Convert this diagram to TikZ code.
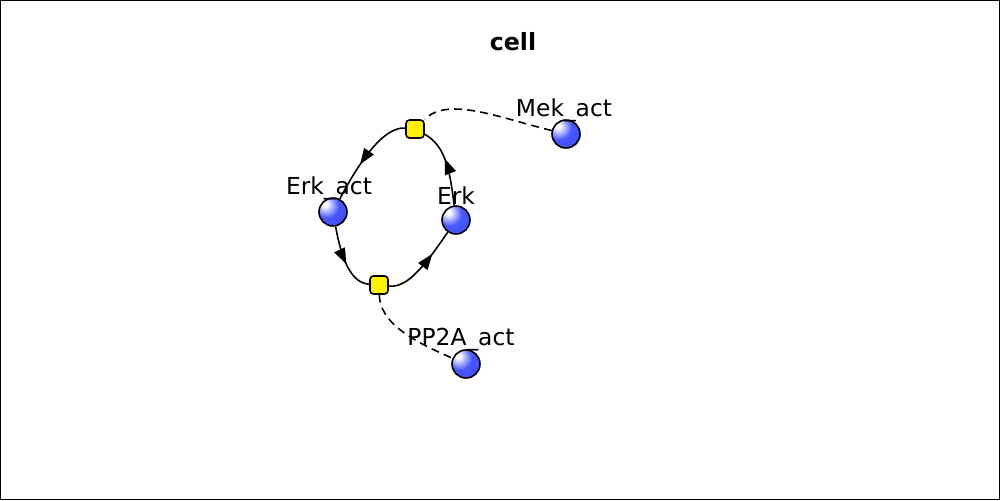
\documentclass[tikz,border=0pt]{standalone}
\usepackage{fontspec}
\setmainfont{DejaVu Sans}
\usetikzlibrary{decorations.markings,arrows.meta}
\definecolor{ballmid}{RGB}{72,88,255}
\definecolor{balledge}{RGB}{20,30,215}
\pgfdeclareradialshading{speciesball}{\pgfpoint{-15bp}{15bp}}{color(0bp)=(white);
  color(4bp)=(white); color(22bp)=(ballmid); color(50bp)=(ballmid!70!balledge);
  color(72bp)=(balledge); color(100bp)=(balledge)}
\tikzset{species/.style={draw,circle,line width=0.9pt,shading=speciesball,minimum size=0.56cm,inner sep=0pt}}
\tikzset{reaction/.style={draw,rectangle,rounded corners=2pt,fill=yellow,line width=0.9pt,minimum size=0.36cm,inner sep=0pt}}
\tikzset{slabel/.style={font=\fontsize{13.3}{15}\selectfont,inner sep=0pt}}
\tikzset{flow/.style={line width=0.9pt,postaction={decorate},
    decoration={markings,mark=at position #1 with {\arrow{Triangle[length=9pt,width=6.5pt]}}}}}
\tikzset{modifier/.style={line width=0.9pt,dash pattern=on 4.5pt off 3pt}}

\begin{document}
\begin{tikzpicture}[x=0.02cm,y=-0.02cm]
  \useasboundingbox (0,0) rectangle (1000,500);
  \draw[line width=0.8pt] (0.5,0.5) rectangle (999.5,499.5);
  \node[font=\fontsize{13.5}{15}\selectfont\bfseries] (cell) at (513,42) {cell};

  % species
  \node[species] (mek) at (566,134) {};
  \node[species] (erkact) at (333,212) {};
  \node[species] (erk) at (456,220) {};
  \node[species] (pp2a) at (466,364) {};

  % reactions
  \node[reaction] (rtop) at (415,129) {};
  \node[reaction] (rbot) at (379,285) {};

  % top: Erk -> Erk_act
  \draw[flow=0.6] (erk) .. controls (450,172) and (446,146) .. (rtop);
  \draw[flow=0.6] (rtop) .. controls (382,126) and (356,168) .. (erkact);
  \draw[modifier] (mek) .. controls (500,118) and (448,96) .. (rtop);

  % bottom: Erk_act -> Erk
  \draw[flow=0.55] (erkact) .. controls (342,262) and (352,283) .. (rbot);
  \draw[flow=0.68] (rbot) .. controls (406,288) and (422,270) .. (erk);
  \draw[modifier] (rbot) .. controls (380,322) and (410,340) .. (pp2a);

  % labels
  \node[slabel] (mekl) at (564,110) {Mek\_act};
  \node[slabel] (erkactl) at (329,188) {Erk\_act};
  \node[slabel] (erkl) at (456,196) {Erk};
  \node[slabel] (pp2al) at (461,340) {PP2A\_act};
\end{tikzpicture}
\end{document}
